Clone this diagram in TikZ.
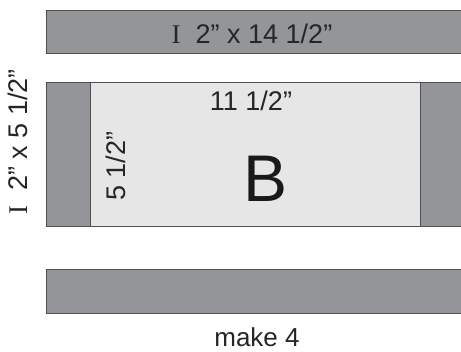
\documentclass[tikz,border=0pt]{standalone}
\usepackage{fontspec}
\setmainfont{Liberation Sans}
\newfontfamily\romanI{Liberation Serif}
\usetikzlibrary{positioning}

\definecolor{stripgray}{HTML}{939598}
\definecolor{centergray}{HTML}{E6E6E6}
\definecolor{edgegray}{HTML}{505050}

\tikzset{
	strip/.style={fill=stripgray, draw=edgegray, line width=1pt},
	centre/.style={fill=centergray, draw=edgegray, line width=1pt},
	size label/.style={font=\fontsize{27}{30}\selectfont, inner sep=0pt, text=black!85},
}

\begin{document}
\begin{tikzpicture}[x=1pt, y=-1pt]
			\useasboundingbox (0,0) rectangle (461,352);
			\clip (0,0) rectangle (461,352);
			% strips and centre block
			\draw[strip] (46.5,11) rectangle (475,54);
			\draw[centre] (90.5,83) rectangle (420.5,227);
			\draw[strip] (46.5,83) rectangle (90.5,227);
			\draw[strip] (420.5,83) rectangle (475,227);
			\draw[strip] (46.5,270) rectangle (475,314);
			% labels
			\node[size label] (top) at (252,34) {{\romanI I}\ \ 2” x 14 1/2”};
			\node[size label] (width) at (251,101) {11 1/2”};
			\node[inner sep=0pt, font=\fontsize{66}{70}\selectfont, text=black!90] (block) at (266,179) {B};
			\node[size label, rotate=90] (height) at (116,166) {5 1/2”};
			\node[size label, rotate=90] (side) at (18,142) {{\romanI I}\ \ 2” x 5 1/2”};
			\node[size label, font=\fontsize{26}{29}\selectfont] (count) at (257,337) {make 4};
		\end{tikzpicture}
\end{document}
